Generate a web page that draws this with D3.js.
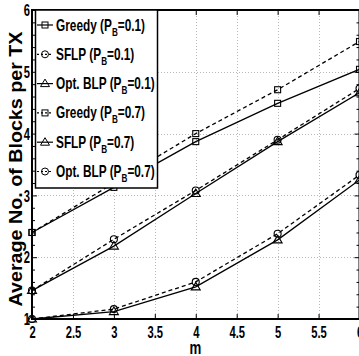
<!DOCTYPE html>
<html>
<head>
<meta charset="utf-8">
<script src="https://d3js.org/d3.v7.min.js"></script>
<style>
  body { margin: 0; background: #fff; }
  svg { display: block; }
  text { font-family: "Liberation Sans", Arial, sans-serif; font-weight: bold; fill: #000; }
</style>
</head>
<body>
<svg id="chart" width="359" height="356"></svg>
<script>
// m values on the x axis
const mVals = [2, 3, 4, 5, 6];
// series
const greedy01 = [2.40, 3.13, 3.87, 4.49, 5.04];
const sflp01   = [1.46, 2.29, 3.08, 3.90, 4.73];
const optblp01 = [1.46, 2.18, 3.03, 3.87, 4.66];
const greedy07 = [2.40, 3.20, 4.00, 4.71, 5.49];
const sflp07   = [1.00, 1.12, 1.52, 2.28, 3.25];
const optblp07 = [1.00, 1.16, 1.60, 2.38, 3.33];

const xTicks = [2, 2.5, 3, 3.5, 4, 4.5, 5, 5.5, 6];
const yTicks = [1, 2, 3, 4, 5, 6];

const series = [
  {name: "Greedy (P", pb: "0.1", vals: greedy01, marker: "square", dash: null},
  {name: "SFLP (P", pb: "0.1", vals: sflp01, marker: "circle", dash: "4,3"},
  {name: "Opt. BLP (P", pb: "0.1", vals: optblp01, marker: "triangle", dash: null},
  {name: "Greedy (P", pb: "0.7", vals: greedy07, marker: "square", dash: "4,3"},
  {name: "SFLP (P", pb: "0.7", vals: sflp07, marker: "triangle", dash: null},
  {name: "Opt. BLP (P", pb: "0.7", vals: optblp07, marker: "circle", dash: "4,3"}
];

const svg = d3.select("#chart");
const mLeft = 32, mRight = 359.5, mTop = 10, mBottom = 319;
const x = d3.scaleLinear().domain([2, 6]).range([mLeft, mRight]);
const y = d3.scaleLinear().domain([1, 6]).range([mBottom, mTop]);
const sq = 0.7; // narrow font look

// grid
const grid = svg.append("g").attr("stroke", "#b8b8b8").attr("stroke-width", 1).attr("stroke-dasharray", "1,2");
grid.selectAll("line.gx").data(xTicks.slice(1, -1)).join("line")
  .attr("x1", d => Math.round(x(d)) + 0.5).attr("x2", d => Math.round(x(d)) + 0.5)
  .attr("y1", mTop).attr("y2", mBottom);
grid.selectAll("line.gy").data(yTicks.slice(1, -1)).join("line")
  .attr("y1", d => Math.round(y(d)) + 0.5).attr("y2", d => Math.round(y(d)) + 0.5)
  .attr("x1", mLeft).attr("x2", mRight);

// lines
const line = d3.line().x((d, i) => x(mVals[i])).y(d => y(d));
function drawMarker(g, type, cx, cy) {
  if (type === "square") {
    g.append("rect").attr("x", cx - 3).attr("y", cy - 3).attr("width", 6).attr("height", 6);
  } else if (type === "circle") {
    g.append("circle").attr("cx", cx).attr("cy", cy).attr("r", 3.5);
  } else {
    g.append("path").attr("d", `M${cx},${cy - 4.5}L${cx + 4.5},${cy + 3}L${cx - 4.5},${cy + 3}Z`);
  }
}
series.forEach(s => {
  svg.append("path").attr("d", line(s.vals)).attr("fill", "none")
    .attr("stroke", "#000").attr("stroke-width", 1.3)
    .attr("stroke-dasharray", s.dash);
  const mg = svg.append("g").attr("fill", "none").attr("stroke", "#000").attr("stroke-width", 1.1);
  s.vals.forEach((v, i) => drawMarker(mg, s.marker, x(mVals[i]), y(v)));
});

// axes
const fmt = d3.format("");
const xAxis = svg.append("g").attr("transform", `translate(0,${mBottom})`)
  .call(d3.axisBottom(x).tickValues(xTicks).tickFormat(fmt).tickSizeInner(-5).tickSizeOuter(0).tickPadding(8));
svg.append("g").attr("transform", `translate(0,${mTop})`)
  .call(d3.axisTop(x).tickValues(xTicks).tickFormat("").tickSizeInner(-5).tickSizeOuter(0));
const yAxis = svg.append("g").attr("transform", `translate(${mLeft},0)`)
  .call(d3.axisLeft(y).tickValues(yTicks).tickFormat(fmt).tickSizeInner(-5).tickSizeOuter(0).tickPadding(3));
svg.append("g").attr("transform", `translate(${mRight},0)`)
  .call(d3.axisRight(y).tickValues(yTicks).tickFormat("").tickSizeInner(-5).tickSizeOuter(0));
const minor = d3.range(1, 6.001, 0.2).filter(v => Math.abs(v - Math.round(v)) > 0.01);
svg.append("g").attr("transform", `translate(${mLeft},0)`)
  .call(d3.axisLeft(y).tickValues(minor).tickFormat("").tickSizeInner(-3).tickSizeOuter(0));
svg.append("g").attr("transform", `translate(${mRight},0)`)
  .call(d3.axisRight(y).tickValues(minor).tickFormat("").tickSizeInner(-3).tickSizeOuter(0));
svg.selectAll(".domain").remove();
svg.selectAll(".tick line").attr("stroke", "#000").attr("stroke-width", 1);
xAxis.selectAll("text").attr("font-size", 16).attr("font-family", null)
  .attr("transform", `scale(${sq},1)`);
yAxis.selectAll("text").attr("font-size", 16).attr("font-family", null)
  .attr("transform", `scale(${sq},1)`).attr("dy", "0.36em");

// frame
svg.append("rect").attr("x", mLeft).attr("y", mTop).attr("width", mRight - mLeft).attr("height", mBottom - mTop)
  .attr("fill", "none").attr("stroke", "#000").attr("stroke-width", 2);

// axis titles
svg.append("text").attr("transform", `translate(195.5,353.5) scale(${sq},1)`)
  .attr("text-anchor", "middle").attr("font-size", 19).text("m");
svg.append("text").attr("transform", "translate(22,169) rotate(-90)")
  .attr("text-anchor", "middle").attr("font-size", 19)
  .attr("textLength", 275).attr("lengthAdjust", "spacingAndGlyphs")
  .text("Average No. of Blocks per TX");

// legend
const lg = svg.append("g");
lg.append("rect").attr("x", 35.5).attr("y", 10).attr("width", 122).attr("height", 178)
  .attr("fill", "#fff").attr("stroke", "#000").attr("stroke-width", 1.5);
series.forEach((s, i) => {
  const cy = 25 + i * 29.3;
  lg.append("line").attr("x1", 37).attr("x2", 53).attr("y1", cy).attr("y2", cy)
    .attr("stroke", "#000").attr("stroke-width", 1.2).attr("stroke-dasharray", s.dash ? "2,2" : null);
  const mg = lg.append("g").attr("fill", "none").attr("stroke", "#000").attr("stroke-width", 1);
  drawMarker(mg, s.marker, 45, cy);
  const t = lg.append("text").attr("transform", `translate(56,${cy + 5.5}) scale(0.74,1)`).attr("font-size", 16);
  t.append("tspan").text(s.name);
  t.append("tspan").attr("font-size", 11).attr("dy", 5).text("B");
  t.append("tspan").attr("dy", -5).text("=" + s.pb + ")");
});
</script>
</body>
</html>
